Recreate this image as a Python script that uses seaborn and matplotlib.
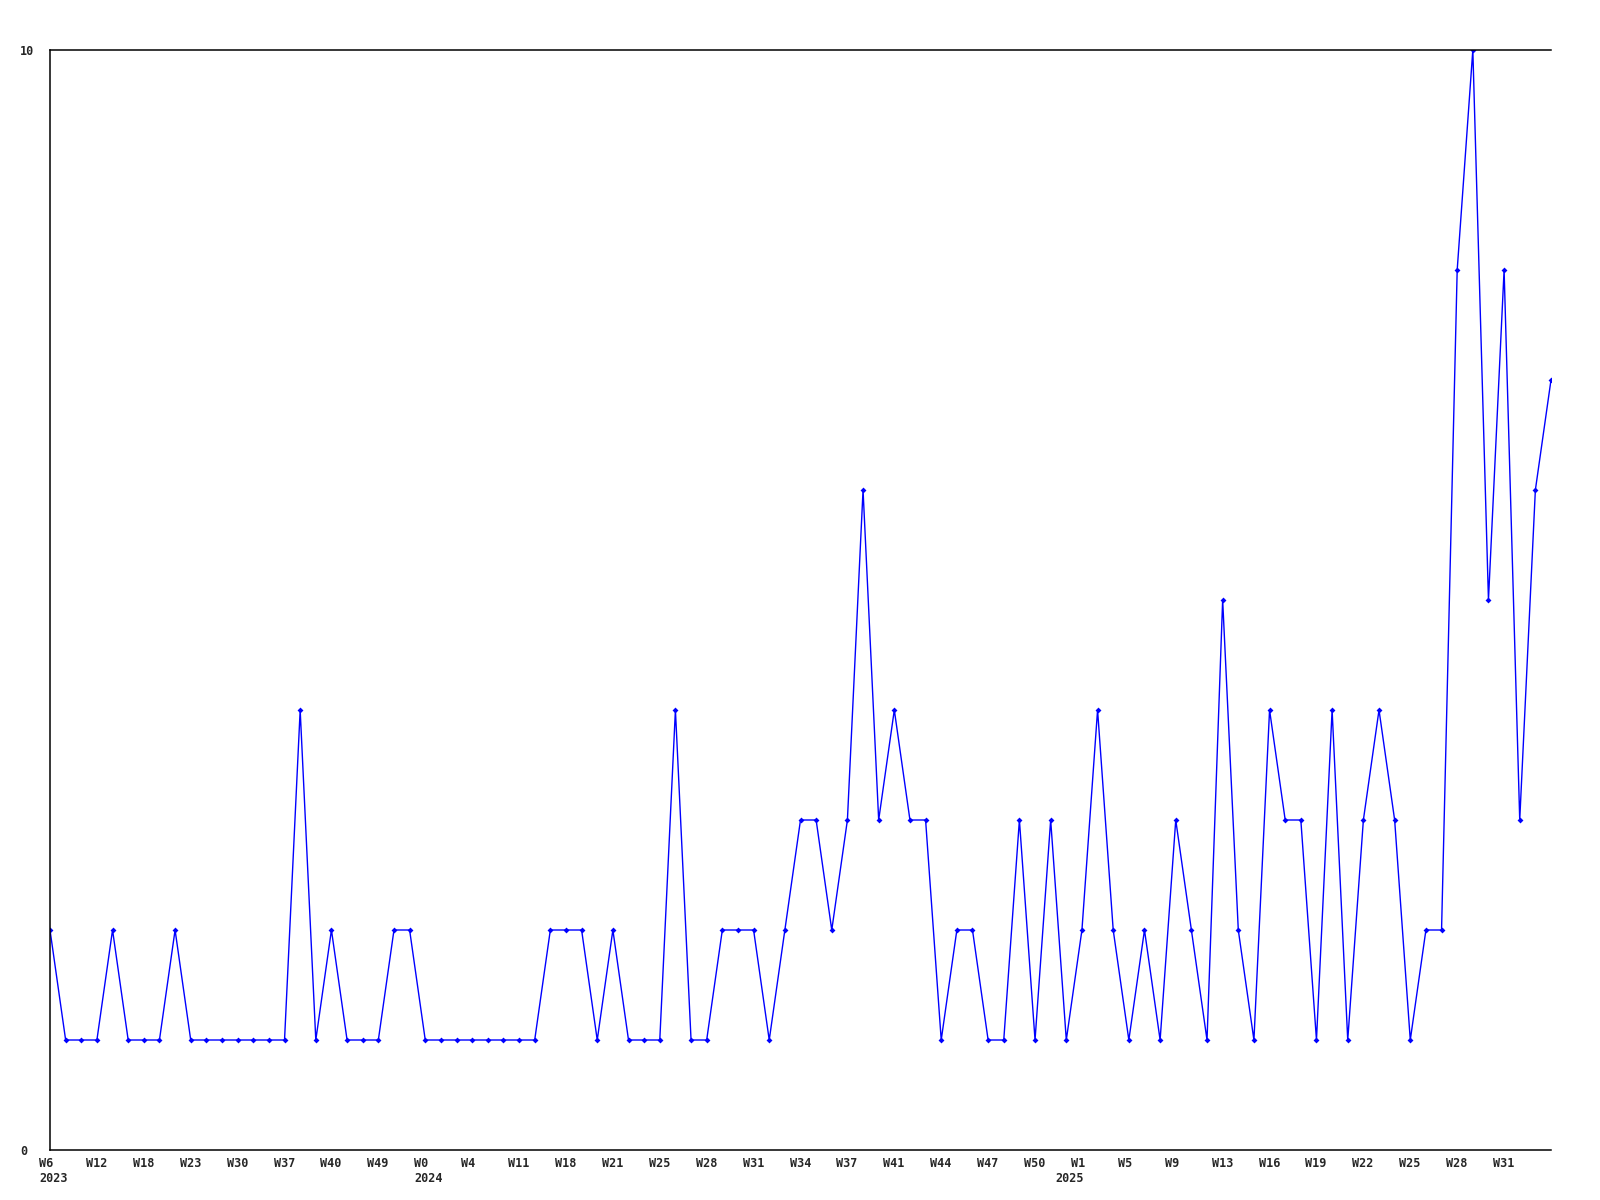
import matplotlib
matplotlib.use("Agg")
import matplotlib.pyplot as plt
import matplotlib.transforms as mtransforms
import seaborn as sns
import pandas as pd

values = [2, 1, 1, 1, 2, 1, 1, 1, 2, 1, 1, 1, 1, 1, 1, 1, 4, 1, 2, 1,
          1, 1, 2, 2, 1, 1, 1, 1, 1, 1, 1, 1, 2, 2, 2, 1, 2, 1, 1, 1,
          4, 1, 1, 2, 2, 2, 1, 2, 3, 3, 2, 3, 6, 3, 4, 3, 3, 1, 2, 2,
          1, 1, 3, 1, 3, 1, 2, 4, 2, 1, 2, 1, 3, 2, 1, 5, 2, 1, 4, 3,
          3, 1, 4, 1, 3, 4, 3, 1, 2, 2, 8, 10, 5, 8, 3, 6, 7]

tick_labels = ["W6", "W12", "W18", "W23", "W30", "W37", "W40", "W49",
               "W0", "W4", "W11", "W18", "W21", "W25", "W28", "W31",
               "W34", "W37", "W41", "W44", "W47", "W50", "W1", "W5",
               "W9", "W13", "W16", "W19", "W22", "W25", "W28", "W31"]
tick_step = 3
year_labels = ["2023", "2024", "2025"]
year_positions = [0, 24, 66]
year_align = ["left", "left", "right"]

df = pd.DataFrame({"idx": range(len(values)), "value": values})

sns.set_theme(style="white")
plt.rcParams["font.family"] = ["DejaVu Sans Mono"]

fig = plt.figure(figsize=(16, 12), dpi=100)
ax = fig.add_axes([50 / 1600, 50 / 1200, (1551 - 50) / 1600, 1100 / 1200])

sns.lineplot(data=df, x="idx", y="value", ax=ax, color="#0000ff", linewidth=1.0,
             marker="D", markersize=3, markeredgewidth=0)

ax.set_xlim(0, len(values) - 1)
ax.set_ylim(0, 10)
tick_pos = [i * tick_step for i in range(len(tick_labels))]
ax.set_xticks(tick_pos)
ax.set_xticklabels([])
ax.set_yticks([0, 10])
ax.set_yticklabels(["0", "10"], fontsize=8.5, fontweight="bold", ha="left")
ax.tick_params(axis="x", length=0)
ax.tick_params(axis="y", length=0, pad=21.5)
ax.set_xlabel("")
ax.set_ylabel("")

trans = mtransforms.blended_transform_factory(ax.transData, ax.transAxes)
# week labels (left-aligned, starting a little left of each tick)
for pos, lab in zip(tick_pos, tick_labels):
    ax.text(pos, 0, lab,
            transform=trans + mtransforms.ScaledTranslation(-11 / 100, -0.07, fig.dpi_scale_trans),
            ha="left", va="top", fontsize=8.5, fontweight="bold")
# year labels on a second line under the week labels
for lab, pos, al in zip(year_labels, year_positions, year_align):
    off = -11 if al == "left" else 2
    ax.text(pos, 0, lab,
            transform=trans + mtransforms.ScaledTranslation(off / 100, -0.215, fig.dpi_scale_trans),
            ha=al, va="top", fontsize=8.5, fontweight="bold")

for side in ["left", "bottom", "top"]:
    ax.spines[side].set_visible(True)
    ax.spines[side].set_color("black")
    ax.spines[side].set_linewidth(1.1)
ax.spines["right"].set_visible(False)
ax.grid(False)

fig.savefig("out.png", dpi=100)
